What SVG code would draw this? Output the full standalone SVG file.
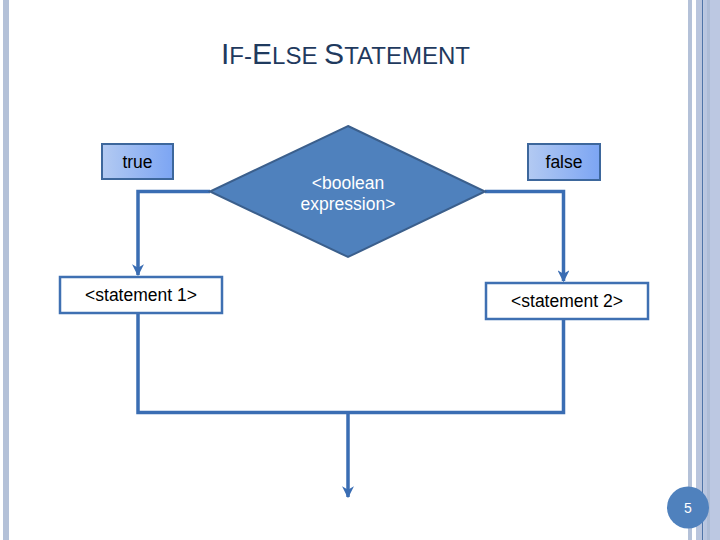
<svg xmlns="http://www.w3.org/2000/svg" width="720" height="540" viewBox="0 0 720 540">
<defs>
<linearGradient id="lbl" x1="0" y1="0" x2="1" y2="0">
<stop offset="0" stop-color="#b3caf2"/>
<stop offset="1" stop-color="#7ca5f3"/>
</linearGradient>
<marker id="arr" viewBox="0 0 10 10" refX="9" refY="5" markerWidth="3.4" markerHeight="3.4" orient="auto" markerUnits="strokeWidth">
<path d="M0,0 L10,5 L0,10 L3,5 Z" fill="#3a6db3"/>
</marker>
<style>
.lbl{fill:url(#lbl);stroke:#3d679c;stroke-width:2}
.stmt{fill:#ffffff;stroke:#3f70b2;stroke-width:2.5}
.t{font-family:"Liberation Sans",Arial,sans-serif;font-size:17.5px;fill:#000;text-anchor:middle}
.w{font-family:"Liberation Sans",Arial,sans-serif;font-size:17.5px;fill:#ffffff;text-anchor:middle}
.c{fill:none;stroke:#3a6db3;stroke-width:3.5}
</style>
</defs>
<rect width="720" height="540" fill="#ffffff"/>
<g id="frame">
<rect x="3" y="0" width="6" height="540" fill="#b4c1d8"/>
<rect x="688" y="0" width="4" height="540" fill="#b4c1d8"/>
<rect x="696" y="0" width="6" height="540" fill="#b9c5dd"/>
<rect x="702" y="0" width="1.3" height="540" fill="#4f74a8"/>
<rect x="703.3" y="0" width="3.7" height="540" fill="#b9c6e0"/>
<rect x="707" y="0" width="3" height="540" fill="#adbcd6"/>
<rect x="710" y="0" width="10" height="540" fill="#bcc8e2"/>
</g>
<g id="title">
<text x="221" y="64" font-family="'Liberation Sans',Arial,sans-serif" fill="#1f3a5e" textLength="249" lengthAdjust="spacingAndGlyphs"><tspan font-size="30">I</tspan><tspan font-size="24">F-</tspan><tspan font-size="30">E</tspan><tspan font-size="24">LSE </tspan><tspan font-size="30">S</tspan><tspan font-size="24">TATEMENT</tspan></text>
</g>
<g id="connectors">
<polyline class="c" points="210,191.5 138,191.5 138,275" marker-end="url(#arr)"/>
<polyline class="c" points="485,191.5 563.5,191.5 563.5,281" marker-end="url(#arr)"/>
<polyline class="c" points="138,313 138,412.5 563.5,412.5 563.5,319"/>
<line class="c" x1="348" y1="412.5" x2="348" y2="497" marker-end="url(#arr)"/>
</g>
<g id="true">
<rect class="lbl" x="102" y="144" width="71" height="35"/>
<text class="t" x="137.5" y="168">true</text>
</g>
<g id="false">
<rect class="lbl" x="528" y="144" width="72" height="36"/>
<text class="t" x="564" y="168">false</text>
</g>
<g id="decision">
<polygon points="348,126 485,191.5 348,257 210,191.5" fill="#4f81bd" stroke="#3b5f8c" stroke-width="2"/>
<text class="w" x="348" y="189">&lt;boolean</text>
<text class="w" x="348" y="210">expression&gt;</text>
</g>
<g id="statement1">
<rect class="stmt" x="60" y="277" width="162" height="36"/>
<text class="t" x="141" y="301">&lt;statement 1&gt;</text>
</g>
<g id="statement2">
<rect class="stmt" x="486" y="283" width="162" height="36"/>
<text class="t" x="567" y="307">&lt;statement 2&gt;</text>
</g>
<g id="page">
<circle cx="688" cy="507.5" r="21" fill="#4f81bd"/>
<text x="688" y="513" font-family="'Liberation Sans',Arial,sans-serif" font-size="14" fill="#ffffff" text-anchor="middle">5</text>
</g>
</svg>
